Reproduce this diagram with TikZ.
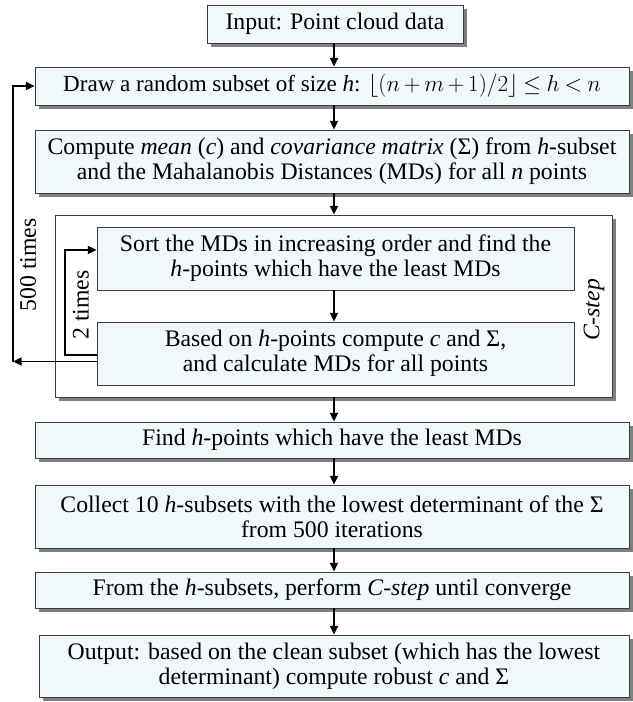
\documentclass[tikz,border=0pt]{standalone}
\usepackage{fontspec}
\setmainfont{Liberation Serif}
\usetikzlibrary{arrows.meta,shadows}
\definecolor{boxfill}{RGB}{240,248,251}
\definecolor{boxline}{RGB}{60,60,60}
\definecolor{shadowgray}{RGB}{128,128,128}
\tikzset{
  box/.style={draw=boxline, fill=boxfill, line width=0.6pt, inner sep=0pt, align=center,
    font=\fontsize{17.8}{19}\selectfont},
  shd/.style={drop shadow={shadow xshift=3pt, shadow yshift=-3.2pt, fill=shadowgray, opacity=1}},
  arr/.style={-{Triangle[length=6.5pt,width=6pt]}, line width=1.2pt, black},
  lbl/.style={font=\fontsize{17.8}{19}\selectfont, inner sep=0pt},
}
\begin{document}
\begin{tikzpicture}[x=0.75pt,y=-0.75pt]
\useasboundingbox (0,0) rectangle (632,702);
% main boxes
\node[box,shd,minimum width=192pt,minimum height=28.5pt] (in) at (335,24) {Input: Point cloud data};
\node[box,shd,minimum width=445.5pt,minimum height=28.5pt,font=\fontsize{17.3}{19}\selectfont] (drw) at (332,86)
  {Draw a random subset of size \textit{h}: $\thickmuskip=4mu\medmuskip=3mu\lfloor (n+m+1)/2\rfloor \le h < n$};
\node[box,shd,minimum width=445.5pt,minimum height=47.25pt] (comp) at (332,161.5)
  {Compute \textit{mean} (\textit{c}) and \textit{covariance matrix} (Σ) from \textit{h}-subset\\and the Mahalanobis Distances (MDs) for all \textit{n} points};
\node[box,shd,fill=white,minimum width=417.75pt,minimum height=136.5pt] (outer) at (333.5,306) {};
\node[box,minimum width=357.75pt,minimum height=47.25pt] (sort) at (335.5,258.5)
  {Sort the MDs in increasing order and find the\\\textit{h}-points which have the least MDs};
\node[box,minimum width=357.75pt,minimum height=47.25pt] (based) at (335.5,353.5)
  {Based on \textit{h}-points compute \textit{c} and Σ,\\and calculate MDs for all points};
\node[box,shd,minimum width=445.5pt,minimum height=27pt] (find) at (332,440)
  {Find \textit{h}-points which have the least MDs};
\node[box,shd,minimum width=445.5pt,minimum height=47.25pt] (coll) at (332,516.5)
  {Collect 10 \textit{h}-subsets with the lowest determinant of the Σ\\from 500 iterations};
\node[box,shd,minimum width=445.5pt,minimum height=27pt] (from) at (332,590)
  {From the \textit{h}-subsets, perform \textit{C-step} until converge};
\node[box,shd,minimum width=442.5pt,minimum height=46.5pt] (out) at (334,666)
  {Output: based on the clean subset (which has the lowest\\determinant) compute robust \textit{c} and Σ};
% labels
\node[lbl,rotate=90] (t500) at (28,265) {500 times};
\node[lbl,rotate=90] (t2) at (81,305) {2 times};
\node[lbl,rotate=90] (cs) at (594,310) {\textit{C-step}};
% vertical arrows
\coordinate (ax) at (334,0);
\draw[arr] (ax |- in.south) -- (ax |- drw.north);
\draw[arr] (ax |- drw.south) -- (ax |- comp.north);
\draw[arr] (ax |- comp.south) -- (ax |- outer.north);
\draw[arr] (ax |- sort.south) -- (ax |- based.north);
\draw[arr] (ax |- outer.south) -- (ax |- find.north);
\draw[arr] (ax |- find.south) -- (ax |- coll.north);
\draw[arr] (ax |- coll.south) -- (ax |- from.north);
\draw[arr] (ax |- from.south) -- (ax |- out.north);
% 500 times loop
\coordinate (bo) at ([yshift=-6pt]based.west);
\coordinate (lp) at (13,0);
\draw[arr] (bo) -- (lp |- bo);
\draw[arr] (lp |- bo) -- (lp |- drw.west) -- (drw.west);
% 2 times loop
\coordinate (b2) at ([yshift=-1.1pt]based.west);
\coordinate (s2) at ([yshift=6.4pt]sort.west);
\coordinate (tl) at (65,0);
\draw[arr, line width=0.9pt] (b2) -- (tl |- b2) -- (tl |- s2) -- (s2);
\end{tikzpicture}
\end{document}
